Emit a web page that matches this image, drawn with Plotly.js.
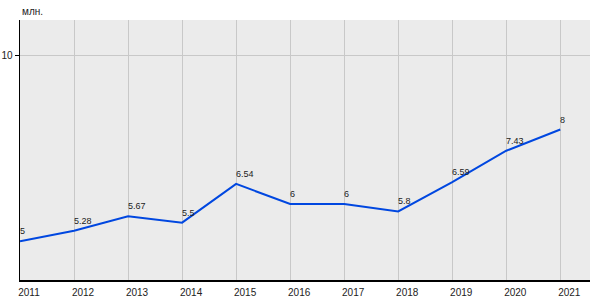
<!DOCTYPE html>
<html>
<head>
<meta charset="utf-8">
<script src="https://cdn.plot.ly/plotly-3.0.1.min.js"></script>
<style>html,body{margin:0;padding:0;background:#fff}#chart{width:600px;height:300px}</style>
</head>
<body>
<div id="chart"></div>
<script>
var years = [2011, 2012, 2013, 2014, 2015, 2016, 2017, 2018, 2019, 2020, 2021];
var values = [5, 5.28, 5.67, 5.5, 6.54, 6, 6, 5.8, 6.59, 7.43, 8];
var labels = ["5", "5.28", "5.67", "5.5", "6.54", "6", "6", "5.8", "6.59", "7.43", "8"];
var yTicks = [10];
var yTickText = ["10"];
var unitLabel = "млн.";

var trace = {
  x: years,
  y: values,
  type: 'scatter',
  mode: 'lines',
  line: {color: '#0047e0', width: 2},
  hoverinfo: 'none'
};

var annotations = years.map(function (yr, i) {
  return {
    x: yr, y: values[i], xref: 'x', yref: 'y', text: labels[i],
    xanchor: 'left', yanchor: 'bottom', xshift: -2, yshift: 3,
    showarrow: false,
    font: {family: 'Liberation Sans, Arial, sans-serif', size: 9, color: '#222'}
  };
});
annotations.push({
  text: unitLabel, xref: 'paper', yref: 'paper', x: 0, y: 1,
  xanchor: 'left', yanchor: 'bottom', yshift: 1, showarrow: false,
  font: {size: 10, color: '#222'}
});

var layout = {
  width: 600, height: 300,
  margin: {l: 20, r: 10, t: 20, b: 20, pad: 0},
  paper_bgcolor: '#ffffff',
  plot_bgcolor: '#ebebeb',
  showlegend: false,
  font: {family: 'Liberation Sans, Arial, sans-serif', size: 10, color: '#222'},
  xaxis: {
    range: [2011, 2021.55],
    tickvals: years,
    ticktext: years.map(String),
    showgrid: true, gridcolor: '#c8c8c8', gridwidth: 1,
    showline: true, linecolor: '#000', linewidth: 1.5,
    ticks: '', zeroline: false,
    ticklabelshift: 9,
    ticklabelstandoff: 2,
    tickfont: {size: 10, color: '#222'},
    fixedrange: true
  },
  yaxis: {
    range: [3.96, 10.94],
    tickvals: yTicks,
    ticktext: yTickText,
    showgrid: true, gridcolor: '#c8c8c8', gridwidth: 1,
    showline: true, linecolor: '#000', linewidth: 1.5,
    ticks: 'outside', ticklen: 4, tickcolor: '#000', tickwidth: 1,
    zeroline: false,
    tickfont: {size: 10, color: '#222'},
    fixedrange: true
  },
  annotations: annotations
};

Plotly.newPlot('chart', [trace], layout, {displayModeBar: false, staticPlot: true});
</script>
</body>
</html>
